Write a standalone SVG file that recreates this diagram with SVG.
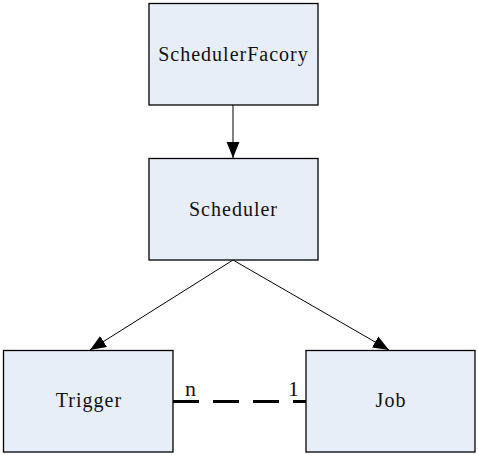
<svg xmlns="http://www.w3.org/2000/svg" width="478" height="455" viewBox="0 0 478 455">
<defs>
<style>
.box{fill:#E8EEF8;stroke:#000;stroke-width:1.3}
.lbl{font-family:"Liberation Serif","Times New Roman",serif;font-size:20px;letter-spacing:1px;fill:#111;text-anchor:middle}
.conn{stroke:#000;stroke-width:1;fill:none}
.end{font-family:"Liberation Serif","Times New Roman",serif;font-size:22px;fill:#111}
</style>
<marker id="ah" viewBox="0 0 10 10" refX="10" refY="5" markerWidth="16" markerHeight="16" markerUnits="userSpaceOnUse" orient="auto">
<path d="M0,1 L10,5 L0,9 Z" fill="#000"/>
</marker>
</defs>
<rect width="478" height="455" fill="#fff"/>
<g id="connectors">
<line class="conn" x1="233" y1="105" x2="233" y2="158" marker-end="url(#ah)"/>
<line class="conn" x1="233" y1="260" x2="90" y2="350" marker-end="url(#ah)"/>
<line class="conn" x1="233" y1="260" x2="389" y2="350" marker-end="url(#ah)"/>
<line x1="173" y1="401.5" x2="306" y2="401.5" stroke="#000" stroke-width="3" stroke-dasharray="26 14"/>
<text class="end" x="185" y="396">n</text>
<text class="end" x="288" y="396">1</text>
</g>
<g id="SchedulerFacory">
<rect class="box" x="149" y="3.5" width="169" height="101.5"/>
<text class="lbl" x="233.5" y="61">SchedulerFacory</text>
</g>
<g id="Scheduler">
<rect class="box" x="149" y="158.5" width="169" height="101.5"/>
<text class="lbl" x="233.5" y="216">Scheduler</text>
</g>
<g id="Trigger">
<rect class="box" x="3.5" y="350.5" width="169.5" height="101.5"/>
<text class="lbl" x="89" y="407">Trigger</text>
</g>
<g id="Job">
<rect class="box" x="306" y="350.5" width="169" height="101.5"/>
<text class="lbl" x="391" y="407">Job</text>
</g>
</svg>
